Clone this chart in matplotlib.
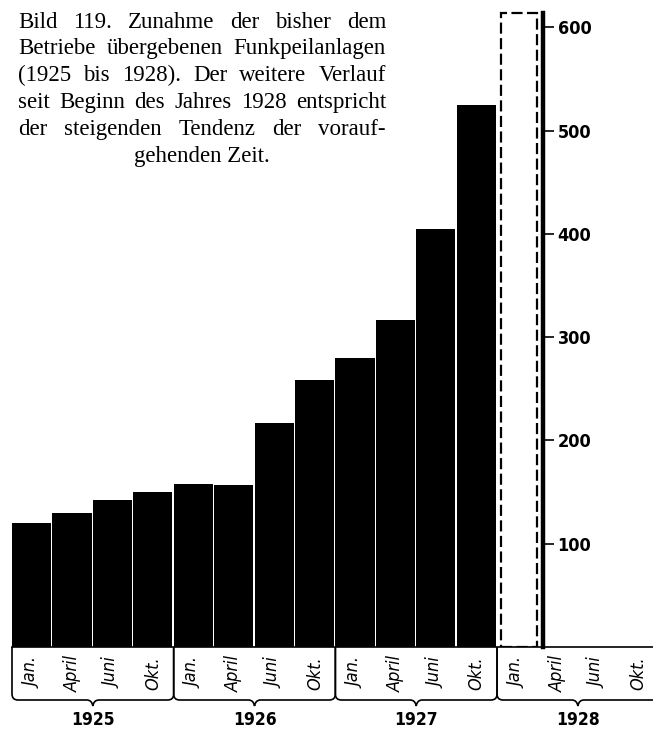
import matplotlib
matplotlib.use("Agg")
import matplotlib.pyplot as plt
from matplotlib.path import Path
from matplotlib.patches import PathPatch

# Funkpeilanlagen in Betrieb, quarterly 1925-1927, plus the projected start of 1928
years = ["1925", "1926", "1927", "1928"]
months = ["Jan.", "April", "Juni", "Okt."]
installed = [120, 130, 142, 150, 158, 157, 217, 258, 280, 317, 405, 525]
projected_1928 = 614
y_ticks = [100, 200, 300, 400, 500, 600]

caption_lines = [
    "Bild 119.  Zunahme der bisher dem",
    "Betriebe übergebenen Funkpeilanlagen",
    "(1925 bis 1928).  Der weitere Verlauf",
    "seit Beginn des Jahres 1928 entspricht",
    "der steigenden Tendenz der vorauf-",
    "gehenden Zeit.",
]

W, H = 653, 732
fig = plt.figure(figsize=(W / 100, H / 100), dpi=100)

sans = dict(family=["DejaVu Sans"], stretch="condensed")
serif = ["Liberation Serif", "DejaVu Serif"]

# layout in pixels
base_y = 647          # zero line
px_per_unit = 1.033   # vertical scale
slot_w = 40.42        # width of one quarter slot
x0 = 12               # left edge of first slot
axis_x = 543

ax = fig.add_axes([0, (H - base_y) / H, 1, base_y / H])
ax.set_xlim(0, W)
ax.set_ylim(0, base_y / px_per_unit)

lefts = [x0 + i * slot_w for i in range(len(installed))]
ax.bar(lefts, installed, width=slot_w - 1.2, align="edge",
       color="black", edgecolor="none", zorder=2)

proj_left = x0 + len(installed) * slot_w + 4
ax.bar([proj_left], [projected_1928], width=36, align="edge",
       fill=False, edgecolor="black", linewidth=1.6,
       linestyle=(0, (5, 2)), zorder=3)

for s in ["left", "top"]:
    ax.spines[s].set_visible(False)
ax.spines["right"].set_position(("data", axis_x))
ax.spines["right"].set_linewidth(3.2)
ax.spines["right"].set_bounds(0, projected_1928)
ax.spines["bottom"].set_linewidth(1.2)
ax.spines["bottom"].set_bounds(x0, W)
ax.set_xticks([])
ax.yaxis.tick_right()
ax.set_yticks(y_ticks)
ax.set_yticklabels([str(t) for t in y_ticks])
ax.tick_params(axis="y", direction="out", length=8, width=1.2, pad=2.5,
               labelsize=13)
for lab in ax.get_yticklabels():
    lab.set_family(sans["family"])
    lab.set_stretch(sans["stretch"])
    lab.set_weight("bold")
ax.patch.set_visible(False)

# overlay in pixel coordinates for the month band and year braces
ov = fig.add_axes([0, 0, 1, 1])
ov.set_xlim(0, W)
ov.set_ylim(H, 0)
ov.axis("off")
ov.patch.set_visible(False)

band_bottom = 700
tip_y = 706
r = 6
for g, yr in enumerate(years):
    L = x0 + 4 * g * slot_w
    R = L + 4 * slot_w
    C = (L + R) / 2
    verts = [(L, base_y), (L, band_bottom - r),
             (L, band_bottom), (L + r, band_bottom),
             (C - 6, band_bottom),
             (C - 1, band_bottom), (C, tip_y),
             (C + 1, band_bottom), (C + 6, band_bottom),
             (R - r, band_bottom),
             (R, band_bottom), (R, band_bottom - r),
             (R, base_y)]
    codes = [Path.MOVETO, Path.LINETO,
             Path.CURVE3, Path.CURVE3,
             Path.LINETO,
             Path.CURVE3, Path.CURVE3,
             Path.CURVE3, Path.CURVE3,
             Path.LINETO,
             Path.CURVE3, Path.CURVE3,
             Path.LINETO]
    ov.add_patch(PathPatch(Path(verts, codes), fill=False,
                           edgecolor="black", linewidth=1.2, clip_on=False))
    ov.text(C, 720, yr, ha="center", va="center", fontsize=12.5,
            weight="bold", color="black", **sans)
    for m, name in enumerate(months):
        cx = L + (m + 0.5) * slot_w
        ov.text(cx, 673, name, ha="center", va="center", rotation=90,
                fontsize=13, style="italic", color="black", **sans)

# justified caption block
fig.canvas.draw()
rend = fig.canvas.get_renderer()
cap_left, cap_right = 18, 386
baselines = [28, 54, 81, 108, 135, 162]
for i, (line, by) in enumerate(zip(caption_lines, baselines)):
    if i == len(caption_lines) - 1:
        fig.text((cap_left + cap_right) / 2 / W, 1 - by / H, line,
                 ha="center", va="baseline", fontsize=16.5, family=serif)
        continue
    words = line.split()
    objs = [fig.text(0, 0, w, ha="left", va="baseline", fontsize=16.5,
                     family=serif) for w in words]
    widths = [o.get_window_extent(rend).width for o in objs]
    gap = (cap_right - cap_left - sum(widths)) / (len(words) - 1)
    x = cap_left
    for o, w in zip(objs, widths):
        o.set_position((x / W, 1 - by / H))
        x += w + gap

fig.savefig("out.png", dpi=100, facecolor="white")
